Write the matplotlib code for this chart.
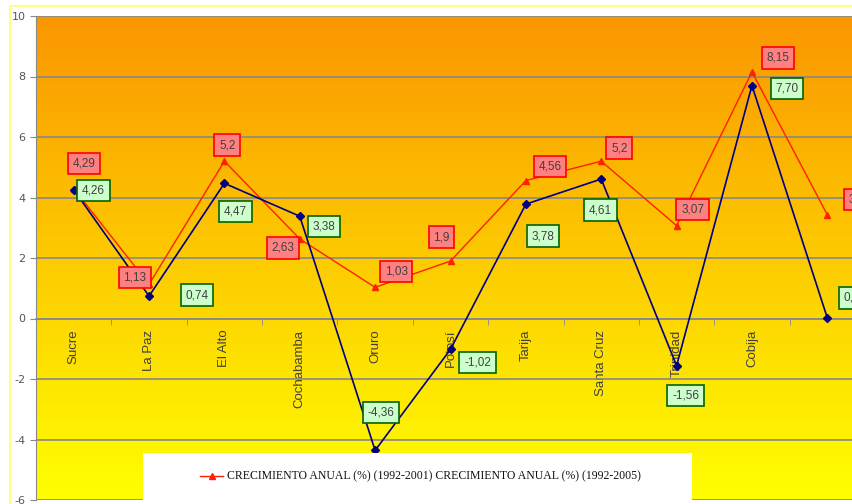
import numpy as np
import matplotlib
matplotlib.use("Agg")
import matplotlib.pyplot as plt
from matplotlib.patches import Rectangle
from matplotlib.lines import Line2D

plt.rcParams["axes.unicode_minus"] = False

# data
ciudades = ["Sucre", "La Paz", "El Alto", "Cochabamba", "Oruro", "Potosí",
            "Tarija", "Santa Cruz", "Trinidad", "Cobija", ""]
crec_2001 = [4.29, 1.13, 5.2, 2.63, 1.03, 1.9, 4.56, 5.2, 3.07, 8.15, 3.43]
crec_2005 = [4.26, 0.74, 4.47, 3.38, -4.36, -1.02, 3.78, 4.61, -1.56, 7.70, 0.02]
etiq_2001 = ["4,29", "1,13", "5,2", "2,63", "1,03", "1,9", "4,56", "5,2", "3,07", "8,15", "3,43"]
etiq_2005 = ["4,26", "0,74", "4,47", "3,38", "-4,36", "-1,02", "3,78", "4,61", "-1,56", "7,70", "0,02"]
leyenda = "CRECIMIENTO ANUAL (%) (1992-2001) CRECIMIENTO ANUAL (%) (1992-2005)"

# label offsets in pixels (dx, dy), as placed in the original
off_2001 = [(10, 25), (-14, 7), (3, 16), (-17, -9), (21, 16), (-9, 24),
            (24, 14), (18, 13), (16, 16), (26, 14), (33, 15)]
off_2005 = [(20, -1), (48, 1), (11, -28), (24, -10), (6, 38), (27, -13),
            (17, -32), (-1, -31), (9, -30), (35, -3), (28, 20)]

W, H = 852, 504
fig = plt.figure(figsize=(W / 100, H / 100), dpi=100)
fig.patch.set_facecolor("white")

# thin yellow outer frame
fig.patches.append(Rectangle((10 / W, -0.1), 1.2, (H - 6) / H + 0.1,
                             transform=fig.transFigure, fill=False,
                             edgecolor="#FFFF80", lw=1.5))

ax = fig.add_axes([36 / W, 4 / H, 829 / W, 484 / H])
n = len(ciudades)
x = np.arange(n)
ax.set_xlim(-0.5, n - 0.5)
ax.set_ylim(-6, 10)

# gradient orange -> yellow
t = np.linspace(0, 1, 256)[:, None]
top = np.array([250, 150, 0]) / 255
bot = np.array([255, 255, 0]) / 255
grad = (top * (1 - t) + bot * t)[:, None, :].repeat(2, axis=1)
ax.imshow(grad, extent=(-0.5, n - 0.5, -6, 10), aspect="auto", zorder=0)

ax.set_yticks(np.arange(-6, 11, 2))
ax.grid(axis="y", color="#888888", lw=1.2, zorder=1)
ax.tick_params(axis="y", colors="#888888", length=4, labelsize=8, labelcolor="#555555")

for s in ["top", "right"]:
    ax.spines[s].set_visible(False)
ax.spines["left"].set_color("#888888")
ax.spines["bottom"].set_position(("data", 0))
ax.spines["bottom"].set_color("#888888")
ax.spines["bottom"].set_linewidth(1.2)

ax.set_xticks(x)
ax.set_xticklabels(ciudades, rotation=90, va="top", fontsize=9.5,
                   family="Liberation Sans", color="#404040")
ax.set_xticks(np.arange(-0.5, n, 1), minor=True)
ax.tick_params(axis="x", which="major", length=0, pad=8)
ax.tick_params(axis="x", which="minor", length=4, color="#888888", direction="out")

ax.plot(x, crec_2001, color="#FF2000", lw=1.0, marker="^", ms=4, zorder=3)
ax.plot(x, crec_2005, color="#000080", lw=1.2, marker="D", ms=4, zorder=3)

for i in range(n):
    ax.annotate(etiq_2001[i], (x[i], crec_2001[i]), xytext=off_2001[i],
                textcoords="offset pixels", ha="center", va="center",
                fontsize=8.5, family="Liberation Sans", color="#404040",
                zorder=5, annotation_clip=False,
                bbox=dict(boxstyle="square,pad=0.4", fc="#FF8080", ec="#FF0000", lw=1.2))
    ax.annotate(etiq_2005[i], (x[i], crec_2005[i]), xytext=off_2005[i],
                textcoords="offset pixels", ha="center", va="center",
                fontsize=8.5, family="Liberation Sans", color="#404040",
                zorder=5, annotation_clip=False,
                bbox=dict(boxstyle="square,pad=0.4", fc="#CCFFCC", ec="#006400", lw=1.2))

# legend box (partly cut off at the bottom)
fig.patches.append(Rectangle((143 / W, -0.05), 549 / W, (504 - 453) / H + 0.05,
                             transform=fig.transFigure, fc="white", ec="none", zorder=10))
fig.lines.append(Line2D([200 / W, 211.5 / W, 223 / W], [(504 - 476) / H] * 3,
                        transform=fig.transFigure, color="#FF2000", lw=1.0,
                        marker="^", ms=4, markevery=[1], zorder=11))
fig.text(227 / W, (504 - 476) / H, leyenda, family="Liberation Serif", fontsize=8.5,
         va="center", ha="left", color="#111111", zorder=11)

fig.savefig("out.png", dpi=100)
